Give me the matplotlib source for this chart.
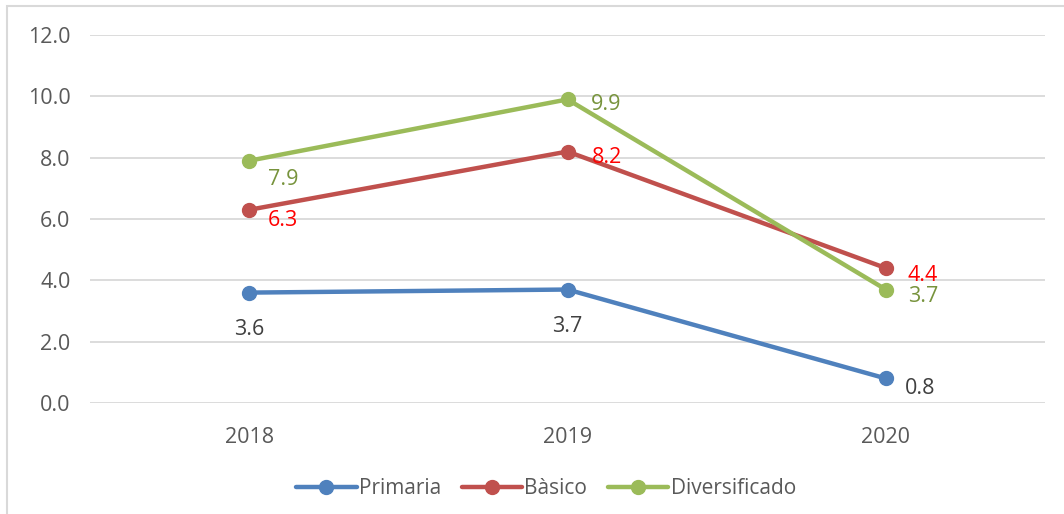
import matplotlib
matplotlib.use("Agg")
import matplotlib.pyplot as plt
from matplotlib.patches import Rectangle

plt.rcParams['font.family'] = ['Open Sans', 'DejaVu Sans']

years = ["2018", "2019", "2020"]
primaria = [3.6, 3.7, 0.8]
basico = [6.3, 8.2, 4.4]
diversificado = [7.9, 9.9, 3.7]
yticks = [0, 2, 4, 6, 8, 10, 12]

W, H = 1064, 514
fig = plt.figure(figsize=(W / 100, H / 100), dpi=100)
fig.patch.set_facecolor("white")
fig.patches.append(Rectangle((7 / W, -0.1), 1.2, 1 - 6 / H + 0.1, transform=fig.transFigure,
                             fill=False, edgecolor="#D9D9D9", linewidth=1.5))

ax = fig.add_axes([90 / W, 1 - 403 / H, (1045 - 90) / W, (403 - 35) / H])
x = list(range(len(years)))

series = [
    ("Primaria", primaria, "#4F81BD", "#404040",
     [(0, 37, "center"), (0, 37, "center"), (19, 10, "left")]),
    ("Bàsico", basico, "#C0504D", "#FF0000",
     [(19, 11, "left"), (24, 6, "left"), (22, 7, "left")]),
    ("Diversificado", diversificado, "#9BBB59", "#77933C",
     [(19, 19, "left"), (23, 5, "left"), (22, 7, "left")]),
]

px2pt = 72 / 100
for name, vals, col, lcol, offs in series:
    ax.plot(x, vals, color=col, linewidth=3.2, marker="o", markersize=10,
            label=name, solid_capstyle="round")
    for xi, v, (dx, dy, ha) in zip(x, vals, offs):
        ax.annotate(f"{v:.1f}", (xi, v), xytext=(dx * px2pt, -dy * px2pt),
                    textcoords="offset points", ha=ha, va="center",
                    fontsize=15.5, color=lcol)

ax.set_xlim(-0.5, 2.5)
ax.set_ylim(0, 12)
ax.set_yticks(yticks)
ax.set_yticklabels([f"{t:.1f}" for t in yticks])
ax.set_xticks(x)
ax.set_xticklabels(years)
ax.grid(axis="y", color="#D9D9D9", linewidth=1.3)
ax.set_axisbelow(True)
for s in ax.spines.values():
    s.set_visible(False)
ax.tick_params(axis="both", length=0, labelsize=15.5, labelcolor="#595959")
ax.tick_params(axis="y", pad=14)
ax.tick_params(axis="x", pad=17)

leg = fig.legend(loc="center", bbox_to_anchor=(546 / W, 1 - 489 / H), ncol=3,
                 frameon=False, fontsize=15, handlelength=2.9, columnspacing=1.0,
                 handletextpad=0.1, labelcolor="#595959")

fig.savefig("out.png", dpi=100, facecolor="white")
